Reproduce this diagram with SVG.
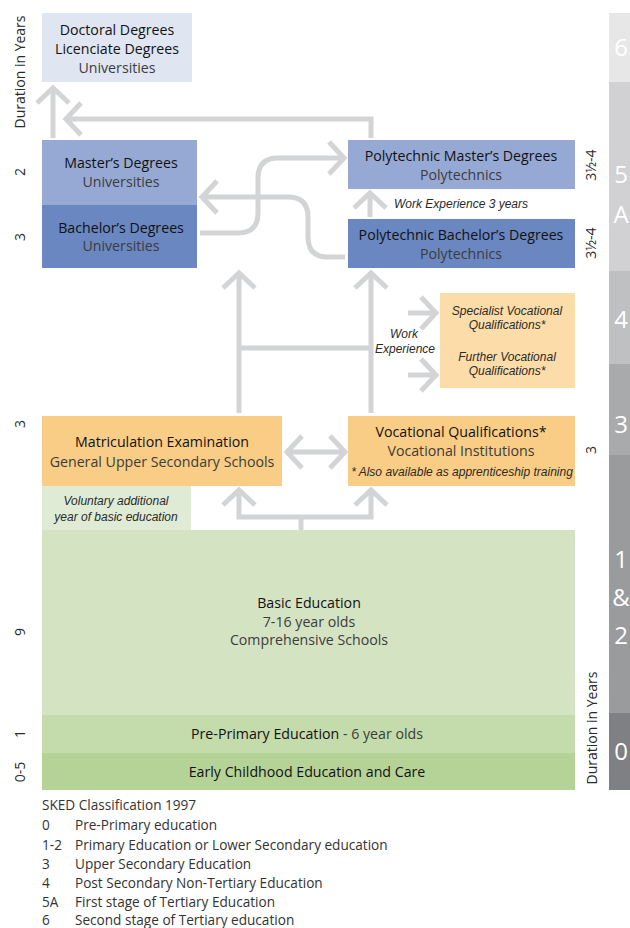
<svg xmlns="http://www.w3.org/2000/svg" width="630" height="928" viewBox="0 0 630 928">
<style>
text{font-family:"Open Sans","Noto Sans","Liberation Sans",sans-serif;}
.t{font-size:14.2px;fill:#111111;text-anchor:middle}
.s{font-size:14.2px;fill:#3c3c3c;text-anchor:middle}
.i{font-family:"Liberation Sans",Arial,sans-serif;font-size:12px;fill:#2a2a2a;font-style:italic;text-anchor:middle}
.d{font-size:14px;fill:#2a2a2a;text-anchor:middle}
.n{font-size:24px;fill:#ffffff;text-anchor:middle}
.l{font-size:13.6px;fill:#333333}
.c{fill:none;stroke:#d3d4d6;stroke-width:5}
</style>
<defs>
<marker id="ah" viewBox="-20 -20 24 40" refX="0" refY="0" markerWidth="24" markerHeight="40" markerUnits="userSpaceOnUse" orient="auto-start-reverse" overflow="visible">
<path d="M-15,-16 L0,0 L-15,16" fill="none" stroke="#d3d4d6" stroke-width="5"/>
</marker>
</defs>

<g id="scale-bar">
<rect x="609" y="13" width="21" height="69" fill="#e7e7e8"/>
<rect x="609" y="82" width="21" height="189" fill="#d1d1d3"/>
<rect x="609" y="271" width="21" height="93" fill="#bfc0c2"/>
<rect x="609" y="364" width="21" height="91" fill="#a9aaac"/>
<rect x="609" y="455" width="21" height="258" fill="#9a9b9d"/>
<rect x="609" y="713" width="21" height="77" fill="#7f8083"/>
<text class="n" x="621" y="56">6</text>
<text class="n" x="621" y="183">5</text>
<text class="n" x="621" y="223">A</text>
<text class="n" x="621" y="328">4</text>
<text class="n" x="621" y="433">3</text>
<text class="n" x="621" y="568">1</text>
<text class="n" x="621" y="606">&amp;</text>
<text class="n" x="621" y="644">2</text>
<text class="n" x="621" y="760">0</text>
</g>

<g id="durations">
<text class="d" transform="translate(25,72) rotate(-90)">Duration in Years</text>
<text class="d" transform="translate(25,172) rotate(-90)">2</text>
<text class="d" transform="translate(25,237) rotate(-90)">3</text>
<text class="d" transform="translate(25,424) rotate(-90)">3</text>
<text class="d" transform="translate(25,632) rotate(-90)">9</text>
<text class="d" transform="translate(25,734) rotate(-90)">1</text>
<text class="d" transform="translate(25,772) rotate(-90)">0-5</text>
<text class="d" transform="translate(596,165) rotate(-90)">3½-4</text>
<text class="d" transform="translate(596,243) rotate(-90)">3½-4</text>
<text class="d" transform="translate(596,450) rotate(-90)">3</text>
<text class="d" transform="translate(597,728) rotate(-90)">Duration in Years</text>
</g>

<g id="doctoral">
<rect x="42" y="13" width="150" height="69" fill="#e0e5f2"/>
<text class="t" x="117" y="35">Doctoral Degrees</text>
<text class="t" x="117" y="54">Licenciate Degrees</text>
<text class="s" x="117" y="73">Universities</text>
</g>
<g id="masters">
<rect x="42" y="140" width="155" height="65" fill="#96a9d5"/>
<text class="t" x="121" y="168">Master’s Degrees</text>
<text class="s" x="121" y="187">Universities</text>
</g>
<g id="bachelors">
<rect x="42" y="205" width="155" height="63" fill="#6a87c1"/>
<text class="t" x="121" y="233">Bachelor’s Degrees</text>
<text class="s" x="121" y="251">Universities</text>
</g>
<g id="poly-masters">
<rect x="348" y="140" width="227" height="49" fill="#96a9d5"/>
<text class="t" x="461" y="161">Polytechnic Master’s Degrees</text>
<text class="s" x="461" y="180">Polytechnics</text>
</g>
<g id="poly-bachelors">
<rect x="348" y="219" width="227" height="49" fill="#6a87c1"/>
<text class="t" x="461" y="240">Polytechnic Bachelor’s Degrees</text>
<text class="s" x="461" y="259">Polytechnics</text>
</g>
<g id="specialist">
<rect x="440" y="293" width="135" height="95" fill="#fcdca8"/>
<text class="i" x="507" y="315">Specialist Vocational</text>
<text class="i" x="507" y="329">Qualifications*</text>
<text class="i" x="507" y="361">Further Vocational</text>
<text class="i" x="507" y="375">Qualifications*</text>
</g>
<g id="matriculation">
<rect x="42" y="416" width="240" height="70" fill="#f9cd85"/>
<text class="t" x="162" y="447">Matriculation Examination</text>
<text class="s" x="162" y="467">General Upper Secondary Schools</text>
</g>
<g id="vocational">
<rect x="348" y="416" width="227" height="70" fill="#f9cd85"/>
<text class="t" x="461" y="437">Vocational Qualifications*</text>
<text class="s" x="461" y="456">Vocational Institutions</text>
<text class="i" x="462" y="476">* Also available as apprenticeship training</text>
</g>
<g id="voluntary">
<rect x="42" y="486" width="149" height="44" fill="#e0ebd6"/>
<text class="i" x="116" y="505">Voluntary additional</text>
<text class="i" x="116" y="521">year of basic education</text>
</g>
<g id="basic">
<rect x="42" y="530" width="533" height="185" fill="#d4e3c2"/>
<text class="t" x="309" y="608">Basic Education</text>
<text class="s" x="309" y="627">7-16 year olds</text>
<text class="s" x="309" y="645">Comprehensive Schools</text>
</g>
<g id="pre-primary">
<rect x="42" y="715" width="533" height="38" fill="#c4dbab"/>
<text class="t" x="307" y="739">Pre-Primary Education<tspan style="fill:#3c3c3c"> - 6 year olds</tspan></text>
</g>
<g id="early-childhood">
<rect x="42" y="753" width="533" height="37" fill="#b5d397"/>
<text class="t" x="307" y="777">Early Childhood Education and Care</text>
</g>

<g id="connectors">
<path class="c" d="M53,138 L53,88" marker-end="url(#ah)"/>
<path class="c" d="M371,138 L371,119 L66,119" marker-end="url(#ah)"/>
<path class="c" d="M200,233 L238,233 Q258,233 258,213 L258,178 Q258,158 278,158 L344,158" marker-end="url(#ah)"/>
<path class="c" d="M345,257 L328,257 Q308,257 308,237 L308,217 Q308,197 288,197 L202,197" marker-end="url(#ah)"/>
<path class="c" d="M370,217 L370,193" marker-end="url(#ah)"/>
<path class="c" d="M239,413 L239,273" marker-end="url(#ah)"/>
<path class="c" d="M371,413 L371,273" marker-end="url(#ah)"/>
<path class="c" d="M239,348 L371,348"/>
<path class="c" d="M408,313 L436,313" marker-end="url(#ah)"/>
<path class="c" d="M408,375 L436,375" marker-end="url(#ah)"/>
<path class="c" d="M287,452 L345,452" marker-start="url(#ah)" marker-end="url(#ah)"/>
<path class="c" d="M239,490 L239,517 L371,517 L371,490" marker-start="url(#ah)" marker-end="url(#ah)"/>
<path class="c" d="M301,517 L301,530"/>
</g>

<g id="labels">
<text class="i" x="461" y="208">Work Experience 3 years</text>
<text class="i" x="404" y="338">Work</text>
<text class="i" x="405" y="353">Experience</text>
</g>

<g id="legend">
<text class="l" x="42" y="810">SKED Classification 1997</text>
<text class="l" x="42" y="830">0</text><text class="l" x="75" y="830">Pre-Primary education</text>
<text class="l" x="42" y="850">1-2</text><text class="l" x="75" y="850">Primary Education or Lower Secondary education</text>
<text class="l" x="42" y="869">3</text><text class="l" x="75" y="869">Upper Secondary Education</text>
<text class="l" x="42" y="888">4</text><text class="l" x="75" y="888">Post Secondary Non-Tertiary Education</text>
<text class="l" x="42" y="907">5A</text><text class="l" x="75" y="907">First stage of Tertiary Education</text>
<text class="l" x="42" y="925">6</text><text class="l" x="75" y="925">Second stage of Tertiary education</text>
</g>
</svg>
